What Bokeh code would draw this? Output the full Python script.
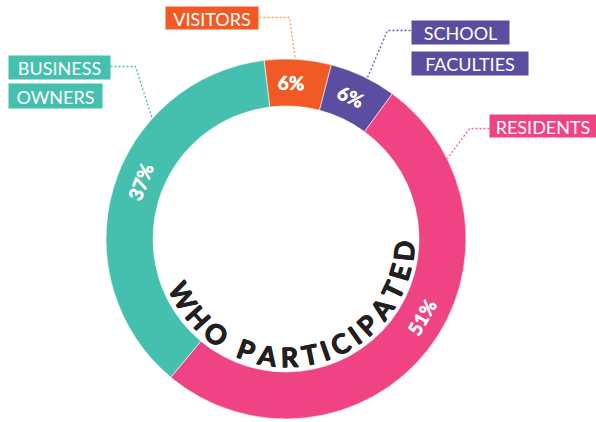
import math
from bokeh.plotting import figure
from bokeh.models import Range1d, ColumnDataSource
from bokeh.core.properties import value
from bokeh.embed import file_html
from bokeh.resources import INLINE

# ---------------- data ----------------
categories = ["VISITORS", "SCHOOL FACULTIES", "RESIDENTS", "BUSINESS OWNERS"]
shares = [6, 6, 51, 37]
pct_labels = ["6%", "6%", "51%", "37%"]
label_lines = [["VISITORS"], ["SCHOOL", "FACULTIES"], ["RESIDENTS"], ["BUSINESS", "OWNERS"]]
title_text = "WHO PARTICIPATED"

# ---------------- style / layout ----------------
colors = ["#F15A24", "#5B4DA0", "#F04384", "#46C0AE"]
leader_colors = ["#F7A04B", "#6A5CB0", "#F0649A", "#46C0AE"]
W, H, OFF = 596, 422, 0
CX, CY = 285.5, 238.5          # ring centre in reference pixels
R_OUT, R_IN = 180, 133
START_CW = -7.0                # degrees clockwise from 12 o'clock
pct_shift = [-2, -1, -8, 5]    # nudges of the % labels (deg)
# label boxes: list of (left, top, right, bottom) in reference px per row
boxes = [
    [(165, 6, 258, 29)],
    [(411, 20, 509, 44), (411, 51, 528, 75)],
    [(489, 114, 596, 137)],
    [(8, 55, 110, 79), (8, 83, 102, 108)],
]
# leader: start (box edge), elbow, ring angle (deg cw from top)
leaders = [
    ((259, 17), (289, 17), 3.0),
    ((410, 30), (387, 30), 26.8),
    ((489, 128), (469, 128), 63.6),
    ((110, 66), (135, 66), -48.0),
]


def X(sx):
    return sx - CX


def Y(sy):
    return CY - sy


p = figure(width=W, height=H,
           x_range=Range1d(OFF - CX, OFF + W - CX),
           y_range=Range1d(CY - OFF - H, CY - OFF),
           output_backend="svg", toolbar_location=None, min_border=0)
p.axis.visible = False
p.grid.visible = False
p.outline_line_color = None
p.background_fill_color = "white"
p.border_fill_color = "white"

# ---------------- ring ----------------
total = float(sum(shares))
cw_start, cw_end = [], []
acc = START_CW
for s in shares:
    cw_start.append(acc)
    acc += 360.0 * s / total
    cw_end.append(acc)

src = ColumnDataSource(dict(
    start=[math.radians(90 - e) for e in cw_end],
    end=[math.radians(90 - s) for s in cw_start],
    color=colors,
))
p.annular_wedge(x=0, y=0, inner_radius=R_IN, outer_radius=R_OUT,
                start_angle="start", end_angle="end", direction="anticlock",
                fill_color="color", line_color="white", line_width=0.6,
                source=src)

# ---------------- percentage labels ----------------
r_mid = (R_IN + R_OUT) / 2.0
px, py, pang = [], [], []
for i in range(len(shares)):
    a = (cw_start[i] + cw_end[i]) / 2.0 + pct_shift[i]
    a_n = ((a + 180) % 360) - 180
    px.append(r_mid * math.sin(math.radians(a)))
    py.append(r_mid * math.cos(math.radians(a)))
    rot = -a_n if -90 <= a_n <= 90 else 180 - a_n
    pang.append(math.radians(rot))
for ox, oy in [(0, 0), (0.4, 0), (0, 0.4)]:
    p.text(x=[v + ox for v in px], y=[v + oy for v in py], text=pct_labels,
           angle=pang, text_align="center", text_baseline="middle",
           text_color="white", text_font=value("Lato"),
           text_font_style="bold", text_font_size="19px")

# ---------------- leaders ----------------
for i, (st, el, ang) in enumerate(leaders):
    ex = R_OUT * math.sin(math.radians(ang))
    ey = R_OUT * math.cos(math.radians(ang))
    p.line(x=[X(st[0]), X(el[0]), ex], y=[Y(st[1]), Y(el[1]), ey],
           line_color=leader_colors[i], line_width=1.3, line_dash="2 2")

# ---------------- label boxes ----------------
ql, qt, qr, qb, qc = [], [], [], [], []
tx, ty, tt = [], [], []
for i, rows in enumerate(boxes):
    for j, (l, t, r, b) in enumerate(rows):
        ql.append(X(l)); qr.append(X(r)); qt.append(Y(t)); qb.append(Y(b))
        qc.append(colors[i])
        tx.append(X((l + r) / 2.0)); ty.append(Y((t + b) / 2.0 + 0.5))
        tt.append(label_lines[i][j])
p.quad(left=ql, right=qr, top=qt, bottom=qb, fill_color=qc, line_color=None)
p.text(x=tx, y=ty, text=tt, text_align="center", text_baseline="middle",
       text_color="white", text_font=value("Lato"), text_font_size="18px")

# ---------------- curved title ----------------
em = {"W": 0.95, "H": 0.74, "O": 0.80, " ": 0.28, "P": 0.64, "A": 0.72,
      "R": 0.66, "T": 0.60, "I": 0.30, "C": 0.68, "E": 0.58, "D": 0.76}
fs = 27.0
track = 3.5
r_txt = 118.0
mid_theta = 281.6
widths = [em.get(c, 0.6) * fs for c in title_text]
pos = [widths[0] / 2.0]
for k in range(1, len(title_text)):
    pos.append(pos[-1] + widths[k - 1] / 2.0 + track + widths[k] / 2.0)
span = pos[-1] - pos[0]
th0 = math.radians(mid_theta) - span / (2 * r_txt)
lx, ly, lt, la = [], [], [], []
for k, c in enumerate(title_text):
    if c == " ":
        continue
    th = th0 + (pos[k] - pos[0]) / r_txt
    lx.append(r_txt * math.cos(th))
    ly.append(r_txt * math.sin(th))
    lt.append(c)
    la.append(th + math.pi / 2)
for dd in [(0, 0), (0.7, 0), (0, 0.7), (0.7, 0.7)]:
    p.text(x=[v + dd[0] for v in lx], y=[v + dd[1] for v in ly], text=lt,
           angle=la, text_align="center", text_baseline="middle",
           text_color="#231F20", text_font=value("Lato"),
           text_font_style="bold", text_font_size="27px")

open("out.html", "w").write(file_html(p, INLINE))
